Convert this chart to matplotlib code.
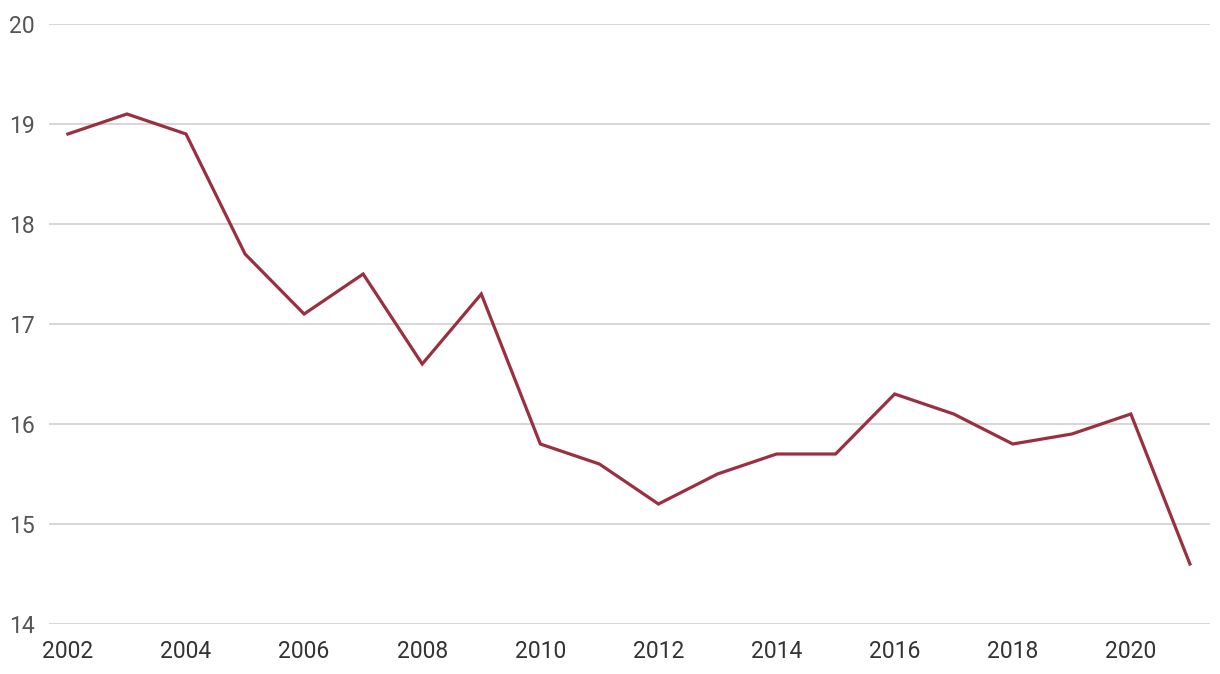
import matplotlib
matplotlib.use("Agg")
import matplotlib.pyplot as plt

# Data
years = [2002, 2003, 2004, 2005, 2006, 2007, 2008, 2009, 2010, 2011,
         2012, 2013, 2014, 2015, 2016, 2017, 2018, 2019, 2020, 2021]
values = [18.9, 19.1, 18.9, 17.7, 17.1, 17.5, 16.6, 17.3, 15.8, 15.6,
          15.2, 15.5, 15.7, 15.7, 16.3, 16.1, 15.8, 15.9, 16.1, 14.6]
x_ticks = list(range(2002, 2021, 2))
y_ticks = [14, 15, 16, 17, 18, 19, 20]

plt.rcParams['font.family'] = ['Roboto', 'DejaVu Sans']

fig = plt.figure(figsize=(12.2, 6.74), dpi=100)
ax = fig.add_axes([49 / 1220, 1 - 624 / 674, (1210 - 49) / 1220, 600 / 674])

ax.plot(years, values, color='#9b2f3f', linewidth=2.3, solid_joinstyle='miter')

ax.set_xlim(2001.68, 2021.34)
ax.set_ylim(14, 20)
ax.set_xticks(x_ticks)
ax.set_yticks(y_ticks)
ax.set_xticklabels([str(t) for t in x_ticks], fontsize=16.5, color='#333333')
ax.set_yticklabels([str(t) for t in y_ticks], fontsize=16.5, color='#555555')
ax.tick_params(axis='both', length=0)
ax.tick_params(axis='x', pad=11.5)
ax.tick_params(axis='y', pad=10.5)

ax.grid(axis='y', color='#d0d0d0', linewidth=1.2)
ax.set_axisbelow(True)
for s in ax.spines.values():
    s.set_visible(False)

fig.savefig('out.png', dpi=100)
